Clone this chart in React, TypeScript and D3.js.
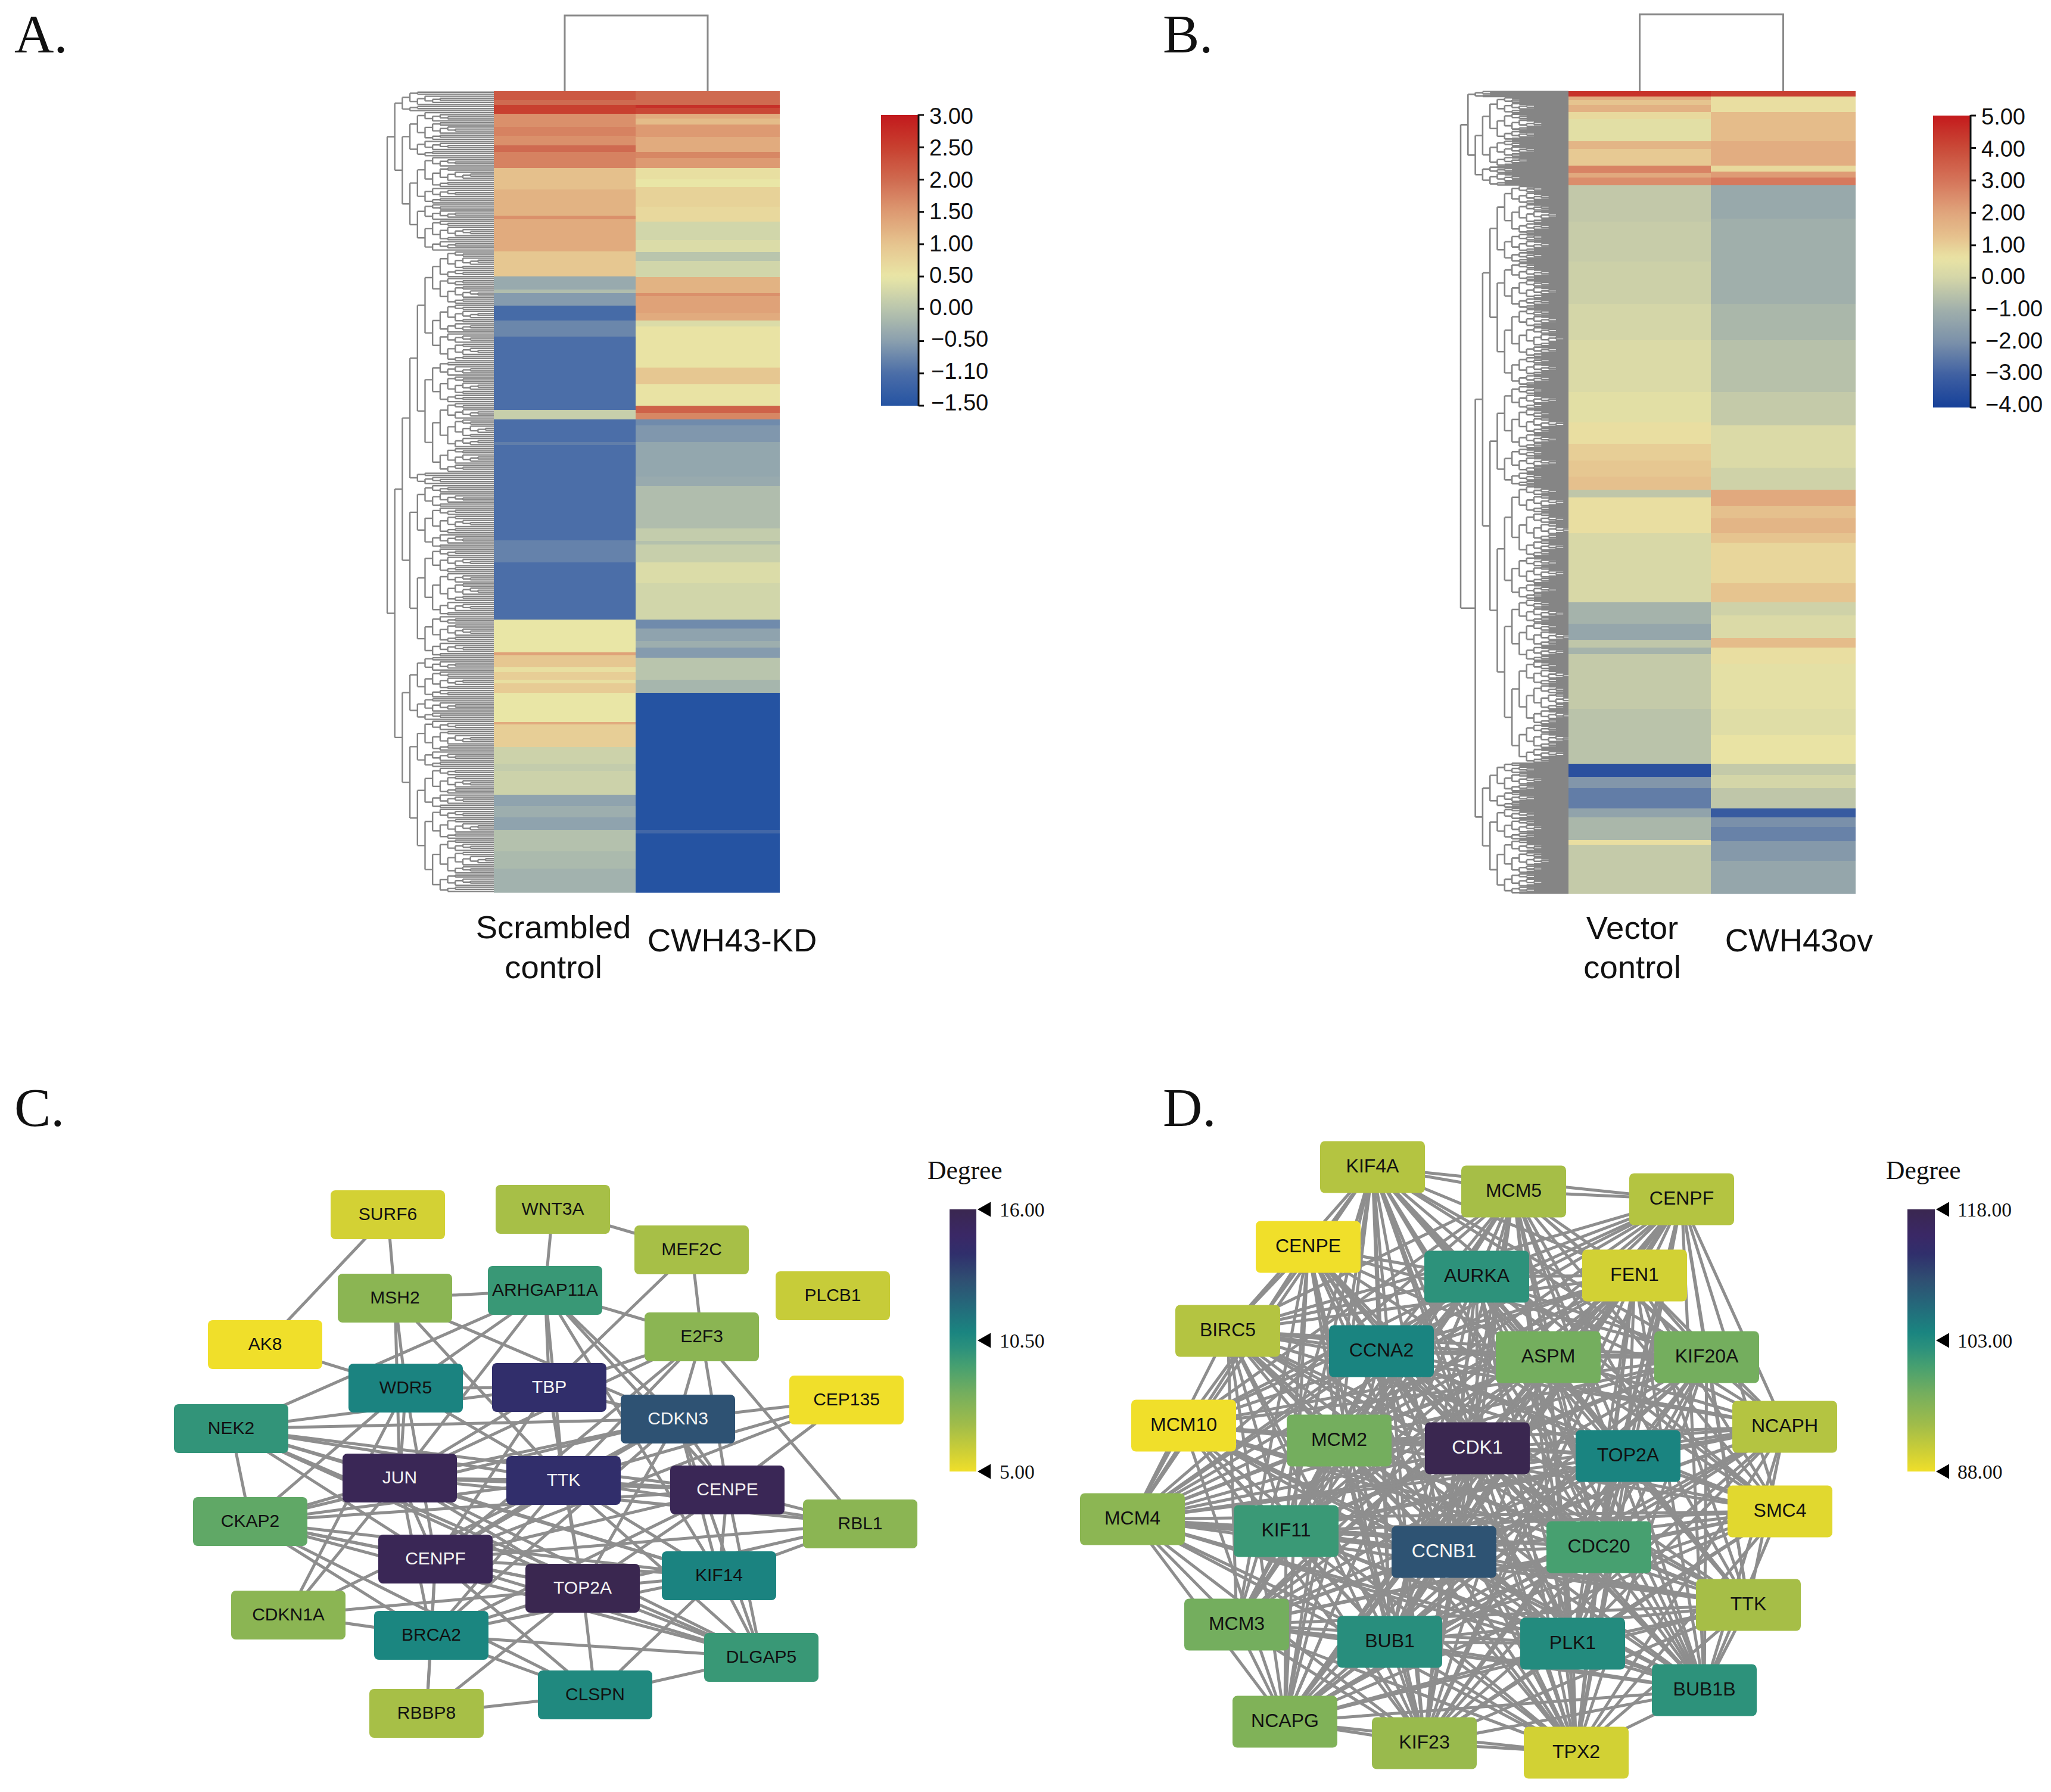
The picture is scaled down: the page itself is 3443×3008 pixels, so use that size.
import React from "react";
import * as d3 from "d3";

// ---------- Heatmap data: each band is [last row of the band, expression value]
const rowsA = 1345;
const rowsB = 1347;
const scrambledControl: [number, number][] = [[15,2.2],[23,2.0],[38,2.5],[60,1.6],[75,1.75],[91,1.6],[102,2.0],[129,1.75],[165,1.05],[209,1.2],[215,1.6],[269,1.3],[311,.95],[333,-.35],[339,-.1],[360,-.55],[385,-1.15],[412,-.8],[535,-1.1],[551,.15],[589,-1.1],[594,-.9],[754,-1.1],[791,-.85],[887,-1.1],[942,.5],[947,1.4],[967,.95],[975,.6],[988,.85],[994,.6],[1010,.9],[1059,.5],[1063,1.3],[1101,.85],[1129,.2],[1141,.1],[1181,.2],[1200,-.45],[1219,-.3],[1240,-.45],[1276,-.05],[1305,-.15],[1345,-.25]];
const cwh43KD: [number, number][] = [[23,2.0],[28,2.7],[38,2.4],[46,1.3],[56,1.1],[77,1.5],[102,1.3],[112,1.7],[129,1.5],[148,.6],[161,.5],[194,.8],[219,.7],[250,.25],[270,.35],[285,0],[312,.25],[339,1.2],[344,1.6],[372,1.4],[385,1.3],[395,.35],[464,.55],[492,.95],[528,.55],[540,2.1],[551,1.7],[561,-.75],[589,-.6],[594,-.4],[647,-.4],[663,-.35],[734,-.1],[755,.1],[761,-.05],[791,.15],[826,.35],[887,.25],[902,-.75],[923,-.45],[934,-.3],[951,-.55],[988,0],[1010,-.2],[1240,-1.5],[1246,-1.2],[1345,-1.5]];
const vectorControl: [number, number][] = [[9,4.5],[15,1.8],[23,1.2],[35,1.7],[47,.8],[84,.4],[97,1.6],[125,1.1],[137,2.7],[145,1.9],[158,2.5],[219,-.35],[286,-.25],[357,-.15],[418,0],[505,.2],[556,.4],[592,.7],[620,1.0],[647,1.15],[669,1.3],[682,-.4],[742,.7],[858,.1],[894,-.9],[921,-1.3],[934,-.4],[945,-.9],[1037,-.3],[1129,-.5],[1151,-3.5],[1170,-1.8],[1204,-2.4],[1219,-1.4],[1257,-.8],[1265,.7],[1347,-.3]];
const cwh43ov: [number, number][] = [[9,4.2],[35,.7],[84,1.4],[125,1.8],[135,.8],[145,2.2],[158,2.9],[214,-1.2],[357,-1.0],[418,-.8],[505,-.55],[561,-.3],[632,.2],[669,-.1],[696,1.9],[717,1.3],[742,1.6],[758,1.2],[826,.85],[858,1.2],[880,-.1],[918,.2],[934,1.4],[961,.7],[1037,.45],[1081,.3],[1129,.6],[1148,-.3],[1170,0],[1204,-.4],[1219,-3.2],[1235,-2],[1259,-2.3],[1292,-1.7],[1347,-1.3]];

const ticksA = [3, 2.5, 2, 1.5, 1, 0.5, 0, -0.5, -1.1, -1.5];
const colorsA = ["#c2191d","#c8402f","#cf6a50","#dd9a72","#e6c48f","#e9e6a6","#b9c5ad","#8a9fae","#4b6ea8","#2553a2"];
const ticksB = [5, 4, 3, 2, 1, 0, -1, -2, -3, -4];
const stopsB = [5, 4, 3, 2, 1.2, 0.6, 0, -1, -2, -3, -4];
const colorsB = ["#c41a1c","#c94a38","#d5745a","#e0a57c","#e6c48f","#e9e3a4","#d4d6a8","#a0afab","#7a90aa","#3f60a2","#164099"];

// Row dendrogram shapes: a number is a group of that many genes.
const treeA: any = [[10, [22, [23, 23]]], [[[[[[13, 13], [14, 14]], 54], 6], 84], [31, [23, [20, 41]]]]];
const treeB: any = [[6, [72, 20]], [[[[80, 128], [104, [118, 170]]], [47, 89]]]];

// ---------- Network data
const namesC = ["SURF6","WNT3A","MEF2C","PLCB1","MSH2","ARHGAP11A","E2F3","AK8","WDR5","TBP","CDKN3","CEP135","NEK2","JUN","TTK","CENPE","CKAP2","RBL1","CENPF","TOP2A","KIF14","CDKN1A","BRCA2","DLGAP5","CLSPN","RBBP8"];
const degreesC = [5.7,6.8,6.8,6,7.6,9.8,7.6,5,10.9,14.2,12.9,5,10,15.7,14.2,15.7,8.8,7.6,15.7,16,10.9,7.6,10.8,9.8,10.6,6.8];
const layoutC: [number, number][] = [[651,2039],[928,2030],[1161,2098],[1398,2175],[663,2179],[915,2166],[1178,2244],[445,2257],[681,2330],[922,2329],[1138,2382],[1421,2350],[388,2398],[671,2481],[946,2485],[1221,2501],[420,2554],[1444,2558],[731,2617],[978,2666],[1207,2645],[484,2711],[724,2745],[1278,2782],[999,2845],[716,2876]];
const edgesC = "SURF6-AK8 SURF6-MSH2 WNT3A-ARHGAP11A WNT3A-MEF2C MEF2C-E2F3 MEF2C-TBP MSH2-ARHGAP11A MSH2-WDR5 MSH2-JUN MSH2-TTK MSH2-CDKN3 ARHGAP11A-E2F3 ARHGAP11A-NEK2 ARHGAP11A-WDR5 ARHGAP11A-TBP ARHGAP11A-TTK ARHGAP11A-CDKN3 ARHGAP11A-CENPE ARHGAP11A-JUN ARHGAP11A-KIF14 AK8-WDR5 WDR5-TBP WDR5-JUN WDR5-TTK WDR5-CENPF WDR5-CKAP2 TBP-CDKN3 TBP-JUN TBP-TTK TBP-CENPF TBP-NEK2 TBP-TOP2A E2F3-TBP E2F3-CDKN3 E2F3-RBL1 E2F3-TTK E2F3-JUN E2F3-CENPE E2F3-CENPF NEK2-CDKN3 NEK2-CKAP2 NEK2-JUN NEK2-TTK NEK2-CENPE NEK2-CENPF NEK2-TOP2A NEK2-KIF14 NEK2-DLGAP5 CDKN3-CEP135 CDKN3-JUN CDKN3-TTK CDKN3-CENPE CDKN3-CENPF CDKN3-TOP2A CDKN3-KIF14 CDKN3-CKAP2 CDKN3-DLGAP5 CDKN3-BRCA2 CEP135-TTK CEP135-CENPE CEP135-CENPF JUN-TTK JUN-CENPE JUN-CENPF JUN-TOP2A JUN-KIF14 JUN-BRCA2 JUN-CKAP2 JUN-CDKN1A JUN-RBL1 JUN-DLGAP5 TTK-CENPE TTK-CENPF TTK-TOP2A TTK-KIF14 TTK-CKAP2 TTK-BRCA2 TTK-RBL1 TTK-DLGAP5 TTK-CDKN1A CENPE-CKAP2 CENPE-CENPF CENPE-TOP2A CENPE-KIF14 CENPE-RBL1 CENPE-BRCA2 CENPE-DLGAP5 CKAP2-CENPF CKAP2-TOP2A CKAP2-KIF14 CKAP2-BRCA2 CKAP2-CLSPN CKAP2-DLGAP5 RBL1-KIF14 RBL1-CENPF RBL1-TOP2A CENPF-TOP2A CENPF-KIF14 CENPF-BRCA2 CENPF-DLGAP5 CENPF-CLSPN CENPF-RBBP8 TOP2A-KIF14 TOP2A-BRCA2 TOP2A-CDKN1A TOP2A-DLGAP5 TOP2A-CLSPN TOP2A-RBBP8 KIF14-CLSPN KIF14-DLGAP5 KIF14-BRCA2 CDKN1A-BRCA2 CDKN1A-WDR5 BRCA2-RBBP8 BRCA2-CLSPN DLGAP5-CLSPN CLSPN-RBBP8 DLGAP5-BRCA2".split(" ");

const namesD = ["KIF4A","MCM5","CENPF","CENPE","FEN1","AURKA","BIRC5","CCNA2","ASPM","KIF20A","MCM10","MCM2","CDK1","TOP2A","NCAPH","SMC4","MCM4","KIF11","CCNB1","CDC20","TTK","MCM3","BUB1","PLK1","BUB1B","NCAPG","KIF23","TPX2"];
const degreesD = [92,93,92,88,90,102,92,104,97,97,88,97,118,104,92,89,95,101,109.5,100,93,97,102.5,103,102,96,94,90];
const layoutD: [number, number][] = [[2304,1959],[2541,2000],[2823,2013],[2196,2093],[2744,2141],[2479,2143],[2061,2234],[2319,2268],[2599,2278],[2865,2278],[1987,2393],[2248,2418],[2480,2431],[2733,2444],[2996,2395],[2988,2537],[1901,2550],[2159,2570],[2424,2605],[2684,2597],[2935,2694],[2076,2727],[2333,2756],[2640,2759],[2861,2837],[2157,2890],[2391,2926],[2646,2942]];
// The graph in D is almost complete: only the absent links are listed.
const absentD = "CENPE-KIF4A CENPE-MCM5 CENPE-CENPF CENPE-FEN1 CENPE-MCM10 MCM10-BIRC5 MCM10-MCM3 MCM10-CCNA2 NCAPH-SMC4 SMC4-TTK KIF20A-NCAPH SMC4-KIF20A MCM10-SMC4 CENPE-SMC4 CENPE-TTK CENPE-NCAPH BIRC5-SMC4 MCM10-NCAPH".split(" ");

const degreeRampPos = [0, 0.07, 0.18, 0.3, 0.4, 0.47, 0.53, 0.64, 0.73, 0.83, 0.9, 1];
const degreeColors = ["#f0df2a","#d0d035","#a0bc4a","#74ae5e","#47a070","#2c917c","#1a8580","#25677a","#2f4f72","#302f6c","#3a2866","#3a2750"];

const svgW = 3443, svgH = 3008;
const serif = "'Liberation Serif', serif";
const sans = "'Liberation Sans', Arial, sans-serif";
const edgeGrey = "#8e8e8e";

function expand(n: number, flip = false): any {
  if (n <= 1) return {};
  const big = Math.min(n - 1, Math.ceil(n * 0.62));
  const parts = [expand(big, !flip), expand(n - big, flip)];
  return { children: flip ? parts.reverse() : parts };
}
function toNode(t: any, flip = false): any {
  if (typeof t === "number") return expand(t, flip);
  return { children: t.map((c: any, i: number) => toNode(c, i % 2 === 1)) };
}

function dendroPath(shape: any, rootX: number, step: number, leafX: number, top: number, bottom: number) {
  const root: any = d3.hierarchy(toNode(shape));
  const leaves = root.leaves();
  const y = d3.scaleLinear().domain([0, leaves.length]).range([top, bottom]);
  leaves.forEach((l: any, i: number) => { l.py = y(i + 0.5); });
  const path = d3.path();
  root.eachAfter((n: any) => {
    if (n.children) n.py = (n.children[0].py + n.children[n.children.length - 1].py) / 2;
  });
  root.each((n: any) => {
    if (!n.children) return;
    const x = rootX + n.depth * step;
    path.moveTo(x, n.children[0].py);
    path.lineTo(x, n.children[n.children.length - 1].py);
    n.children.forEach((c: any) => {
      path.moveTo(x, c.py);
      path.lineTo(c.children ? x + step : leafX, c.py);
    });
  });
  return path.toString();
}

function Bands({ bands, rows, x0, x1, top, bottom, color }: any) {
  const y = d3.scaleLinear().domain([0, rows]).range([top, bottom]);
  return (
    <g>
      {bands.map(([end, v]: [number, number], i: number) => {
        const start = i ? bands[i - 1][0] : 0;
        return <rect key={i} x={x0} width={x1 - x0} y={y(start)} height={y(end) - y(start) + 0.6} fill={color(v)} />;
      })}
    </g>
  );
}

function Heatmap({ id, left, right, rows, rowCount, tree, rootX, step, leafWidth, color, ticks, bar, labelX, tickFmt, top, bottom, dendroTop }: any) {
  const mid = rows.mid;
  const barY = d3.scalePoint<number>().domain(ticks).range([bar.top, bar.bottom]);
  const labelY = d3.scaleLinear().domain([bar.top, bar.bottom]).range([bar.top + 15, bar.bottom + 8]);
  const posToVal = d3.scaleLinear().domain(ticks.map((t: number) => barY(t) as number)).range(ticks);
  const gradStops = d3.range(0, 61).map((i: number) => i / 60);
  const colL = (left + mid) / 2, colR = (mid + right) / 2;
  return (
    <g>
      <defs>
        <linearGradient id={id} x1="0" x2="0" y1="0" y2="1">
          {gradStops.map((t: number) => (
            <stop key={t} offset={t} stopColor={color(posToVal(bar.top + t * (bar.bottom - bar.top)))} />
          ))}
        </linearGradient>
      </defs>
      <path d={dendroPath(tree, rootX, step, left, top, bottom)} fill="none" stroke="#858585" strokeWidth={leafWidth} />
      <path d={`M${colL},${top}V${dendroTop}H${colR}V${top}`} fill="none" stroke="#8a8a8a" strokeWidth={3} />
      <Bands bands={rows.a} rows={rowCount} x0={left} x1={mid} top={top} bottom={bottom} color={color} />
      <Bands bands={rows.b} rows={rowCount} x0={mid} x1={right} top={top} bottom={bottom} color={color} />
      <rect x={bar.x0} width={bar.x1 - bar.x0} y={bar.top} height={bar.bottom - bar.top} fill={`url(#${id})`} />
      <line x1={bar.x1} x2={bar.x1} y1={bar.top - 1} y2={bar.bottom + 1} stroke="#111" strokeWidth={3} />
      {ticks.map((t: number) => (
        <g key={t}>
          <line x1={bar.x1} x2={bar.x1 + 9} y1={barY(t)} y2={barY(t)} stroke="#111" strokeWidth={3} />
          <text x={t < 0 ? labelX.neg : labelX.pos} y={labelY(barY(t) as number)} fontFamily={sans} fontSize={38} fill="#111">{tickFmt(t)}</text>
        </g>
      ))}
    </g>
  );
}

function Network({ names, degrees, layout, links, degDomain, w, h, font, bar, ticks, labelX, titleX, strokeW, id }: any) {
  const deg = d3.scaleLinear().domain(degDomain).range([0, 1]);
  const ramp = d3.scaleLinear<string>().domain(degreeRampPos).range(degreeColors).interpolate(d3.interpolateRgb);
  const pos = d3.scaleLinear().domain([0, svgW]).range([0, svgW]);
  const index = new Map<string, number>(names.map((n: string, i: number) => [n, i]));
  const barY = d3.scaleLinear().domain(degDomain).range([bar.bottom, bar.top]);
  return (
    <g>
      <defs>
        <linearGradient id={id} x1="0" x2="0" y1="1" y2="0">
          {degreeRampPos.map((t: number, i: number) => <stop key={t} offset={t} stopColor={degreeColors[i]} />)}
        </linearGradient>
      </defs>
      <g stroke={edgeGrey} strokeWidth={strokeW}>
        {links.map(([a, b]: [string, string]) => {
          const p = layout[index.get(a) as number], q = layout[index.get(b) as number];
          return <line key={a + b} x1={pos(p[0])} y1={pos(p[1])} x2={pos(q[0])} y2={pos(q[1])} />;
        })}
      </g>
      {names.map((n: string, i: number) => {
        const [x, y] = layout[i];
        const t = deg(degrees[i]);
        return (
          <g key={n}>
            <rect x={pos(x) - w / 2} y={pos(y) - h / 2} width={w} height={h} rx={8} fill={ramp(t)} />
            <text x={pos(x)} y={pos(y) - 2} textAnchor="middle" dominantBaseline="central" fontFamily={sans} fontSize={font} fill={t > 0.68 ? "#f4f4f4" : "#111"}>{n}</text>
          </g>
        );
      })}
      <rect x={bar.x0} width={bar.x1 - bar.x0} y={bar.top} height={bar.bottom - bar.top} fill={`url(#${id})`} />
      {ticks.map((v: number) => (
        <g key={v}>
          <path d={`M${bar.x1 + 2},${barY(v)}l22,-12.5v25z`} fill="#000" />
          <text x={labelX} y={barY(v) + 12} fontFamily={serif} fontSize={33.5} fill="#111">{v.toFixed(2)}</text>
        </g>
      ))}
      <text x={titleX} y={1979} fontFamily={serif} fontSize={43.5} fill="#111">Degree</text>
    </g>
  );
}

const minusFmt = (t: number) => (t < 0 ? "\u2212" : "") + Math.abs(t).toFixed(2);

export default function App() {
  const colorA = d3.scaleLinear<string>().domain(ticksA).range(colorsA).clamp(true);
  const colorB = d3.scaleLinear<string>().domain(stopsB).range(colorsB).clamp(true);
  const linksC = edgesC.map((e) => e.split("-") as [string, string]);
  const absent = new Set(absentD.flatMap((e) => { const [a, b] = e.split("-"); return [a + "-" + b, b + "-" + a]; }));
  const linksD: [string, string][] = [];
  namesD.forEach((a, i) => namesD.slice(i + 1).forEach((b) => { if (!absent.has(a + "-" + b)) linksD.push([a, b]); }));
  return (
    <svg width={svgW} height={svgH} viewBox={`0 0 ${svgW} ${svgH}`} style={{ position: "absolute", left: 0, top: 0, background: "#fff" }}>
      <rect width={svgW} height={svgH} fill="#fff" />
      <Heatmap id="barA" left={829} right={1309} rows={{ mid: 1067, a: scrambledControl, b: cwh43KD }} rowCount={rowsA}
        tree={treeA} rootX={650} step={12.7} leafWidth={2.4} color={colorA} ticks={ticksA}
        bar={{ x0: 1479, x1: 1542, top: 193, bottom: 681 }} labelX={{ pos: 1560, neg: 1563 }} tickFmt={minusFmt} top={153} bottom={1498} dendroTop={26} />
      <Heatmap id="barB" left={2633} right={3115} rows={{ mid: 2872, a: vectorControl, b: cwh43ov }} rowCount={rowsB}
        tree={treeB} rootX={2452} step={12.3} leafWidth={2.6} color={colorB} ticks={ticksB}
        bar={{ x0: 3245, x1: 3308, top: 194, bottom: 684 }} labelX={{ pos: 3326, neg: 3333 }} tickFmt={minusFmt} top={153} bottom={1500} dendroTop={24} />

      <g fontFamily={sans} fontSize={54.5} fill="#111" textAnchor="middle">
        <text x={929} y={1575}>Scrambled</text>
        <text x={929} y={1642}>control</text>
        <text x={1229} y={1597}>CWH43-KD</text>
        <text x={2740} y={1576}>Vector</text>
        <text x={2740} y={1642}>control</text>
        <text x={3020} y={1597}>CWH43ov</text>
      </g>

      <Network id="degC" names={namesC} degrees={degreesC} layout={layoutC} links={linksC} degDomain={[5, 16]} w={192} h={82} font={30}
        bar={{ x0: 1594, x1: 1639, top: 2030, bottom: 2470 }} ticks={[5, 10.5, 16]} labelX={1678} titleX={1557} strokeW={5} />
      <Network id="degD" names={namesD} degrees={degreesD} layout={layoutD} links={linksD} degDomain={[88, 118]} w={176} h={87} font={32}
        bar={{ x0: 3202, x1: 3248, top: 2030, bottom: 2470 }} ticks={[88, 103, 118]} labelX={3286} titleX={3166} strokeW={5} />

      <g fontFamily={serif} fontSize={92} fill="#111">
        <text x={24} y={88}>A.</text>
        <text x={1952} y={88}>B.</text>
        <text x={24} y={1890}>C.</text>
        <text x={1952} y={1890}>D.</text>
      </g>
    </svg>
  );
}
